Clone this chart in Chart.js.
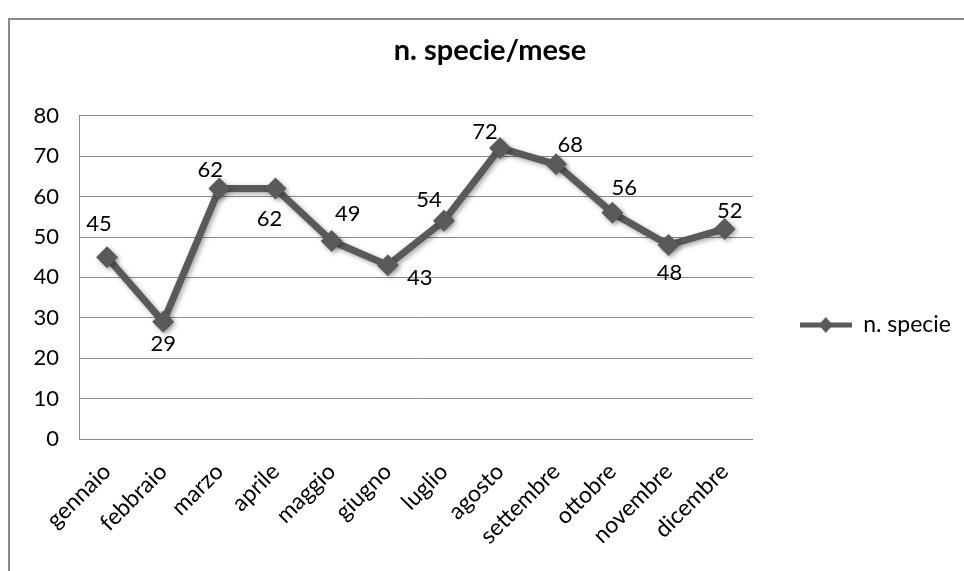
<!DOCTYPE html>
<html>
<head>
<meta charset="utf-8">
<title>n. specie/mese</title>
<script src="https://cdn.jsdelivr.net/npm/chart.js@4.4.1/dist/chart.umd.min.js"></script>
<style>
  html, body { margin: 0; padding: 0; background: #fff; }
  #wrap { position: relative; width: 964px; height: 571px; }
</style>
</head>
<body>
<div id="wrap"><canvas id="my-chart"></canvas></div>
<script>
'use strict';

// ******* DATA *******
let months = ['gennaio', 'febbraio', 'marzo', 'aprile', 'maggio', 'giugno',
  'luglio', 'agosto', 'settembre', 'ottobre', 'novembre', 'dicembre'];
let speciesCount = [45, 29, 62, 62, 49, 43, 54, 72, 68, 56, 48, 52];
let yTicks = [0, 10, 20, 30, 40, 50, 60, 70, 80];
let seriesName = 'n. specie';
let chartTitle = 'n. specie/mese';

// ******* STYLE *******
let lineColor = '#5a5a5a';
let gridColor = '#8c8c8c';
let fontFamily = 'Lato, "Open Sans", sans-serif';
// where each value label sits, relative to its point (dx, dy)
let labelOffsets = [[-8, -33], [0, 22], [-9, -19], [-6, 30], [16, -27], [32, 13],
  [-15, -21], [-15, -16], [14, -19], [12, -25], [1, 28], [5, -18]];

let ctx = document.getElementById('my-chart');

// ****** LEGEND ICON (line with a diamond) ******
function makeLegendIcon() {
  let icon = document.createElement('canvas');
  icon.width = 52;
  icon.height = 18;
  let c = icon.getContext('2d');
  c.strokeStyle = lineColor;
  c.lineWidth = 5;
  c.beginPath();
  c.moveTo(0, 9);
  c.lineTo(52, 9);
  c.stroke();
  c.fillStyle = lineColor;
  c.beginPath();
  c.moveTo(26, 1);
  c.lineTo(33, 9);
  c.lineTo(26, 17);
  c.lineTo(19, 9);
  c.closePath();
  c.fill();
  return icon;
}

// ******* PLUGINS *******
let chartFrame = {
  id: 'chartFrame',
  beforeDraw(chart) {
    let c = chart.ctx;
    c.save();
    c.strokeStyle = '#8a8a8a';
    c.lineWidth = 2;
    c.strokeRect(9, 19, 1000, 600);
    c.restore();
  }
};

let valueLabels = {
  id: 'valueLabels',
  afterDatasetsDraw(chart) {
    let c = chart.ctx;
    let meta = chart.getDatasetMeta(0);
    c.save();
    c.fillStyle = '#000';
    c.font = '22px ' + fontFamily;
    c.textAlign = 'center';
    c.textBaseline = 'middle';
    meta.data.forEach(function (pt, i) {
      let off = labelOffsets[i];
      c.fillText(String(speciesCount[i]), pt.x + off[0], pt.y + off[1]);
    });
    c.restore();
  }
};

let lineShadow = {
  id: 'lineShadow',
  beforeDatasetDraw(chart) {
    let c = chart.ctx;
    c.save();
    c.shadowColor = 'rgba(0,0,0,0.35)';
    c.shadowBlur = 5;
    c.shadowOffsetX = 2;
    c.shadowOffsetY = 2;
  },
  afterDatasetDraw(chart) {
    chart.ctx.restore();
  }
};

// ******* CHART *******
let chartObj = {
  type: 'line',
  data: {
    labels: months,
    datasets: [{
      label: seriesName,
      data: speciesCount,
      borderColor: lineColor,
      backgroundColor: lineColor,
      borderWidth: 7,
      pointStyle: 'rectRot',
      pointRadius: 11,
      pointHoverRadius: 11,
      pointBorderWidth: 0,
      tension: 0
    }]
  },
  options: {
    responsive: true,
    maintainAspectRatio: false,
    animation: false,
    layout: {
      padding: { left: 19, right: 3, top: 20, bottom: 10 }
    },
    plugins: {
      legend: {
        position: 'right',
        // empty legend title only pushes the entry down a bit
        title: { display: true, text: ' ', font: { size: 10 }, padding: { top: 0, bottom: 57 } },
        labels: {
          usePointStyle: true,
          pointStyle: makeLegendIcon(),
          pointStyleWidth: 52,
          padding: 47,
          color: '#000',
          font: { family: fontFamily, size: 23 }
        }
      },
      tooltip: { enabled: false },
      title: {
        display: true,
        text: chartTitle,
        color: '#000',
        font: { family: fontFamily, size: 29, weight: 'bold' },
        padding: { top: 13, bottom: 48 }
      }
    },
    scales: {
      x: {
        offset: true,
        afterFit(axis) { axis.height = 122; },
        grid: { display: false, drawTicks: false },
        border: { display: true, color: gridColor, width: 1 },
        ticks: {
          color: '#000',
          font: { family: fontFamily, size: 23 },
          minRotation: 45,
          maxRotation: 45,
          padding: 19
        }
      },
      y: {
        min: 0,
        max: 80,
        afterFit(axis) { axis.width = 60; },
        afterBuildTicks(axis) {
          axis.ticks = yTicks.map(function (v) { return { value: v }; });
        },
        grid: { color: gridColor, lineWidth: 1, drawTicks: false },
        border: { display: true, color: gridColor, width: 1 },
        ticks: {
          color: '#000',
          font: { family: fontFamily, size: 22 },
          padding: 20
        }
      }
    }
  },
  plugins: [chartFrame, valueLabels, lineShadow]
};

new Chart(ctx, chartObj); //eslint-disable-line
</script>
</body>
</html>
